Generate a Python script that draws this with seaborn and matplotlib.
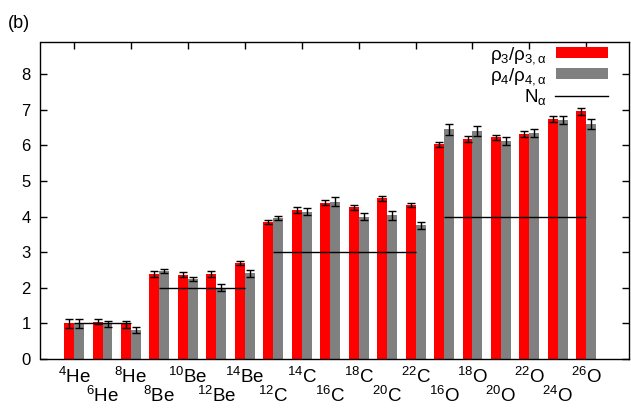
import numpy as np
import pandas as pd
import matplotlib
matplotlib.use("Agg")
import matplotlib.pyplot as plt
import seaborn as sns
from matplotlib.patches import Patch
from matplotlib.lines import Line2D

# ---------------- data ----------------
mass = [4, 6, 8, 8, 10, 12, 14, 12, 14, 16, 18, 20, 22, 16, 18, 20, 22, 24, 26]
element = ["He"] * 3 + ["Be"] * 4 + ["C"] * 6 + ["O"] * 6
rho3 = [1.00, 1.05, 0.98, 2.38, 2.37, 2.38, 2.69, 3.84, 4.19, 4.39, 4.26, 4.51, 4.32,
        6.03, 6.17, 6.22, 6.31, 6.74, 6.95]
rho3_err = [0.12, 0.08, 0.10, 0.08, 0.08, 0.08, 0.06, 0.06, 0.08, 0.08, 0.07, 0.08, 0.05,
            0.07, 0.08, 0.06, 0.08, 0.08, 0.10]
rho4 = [1.00, 0.99, 0.81, 2.47, 2.25, 2.00, 2.41, 3.95, 4.14, 4.42, 4.00, 4.03, 3.76,
        6.45, 6.41, 6.12, 6.35, 6.71, 6.60]
rho4_err = [0.12, 0.08, 0.08, 0.06, 0.06, 0.10, 0.10, 0.06, 0.10, 0.12, 0.10, 0.12, 0.10,
            0.15, 0.14, 0.12, 0.12, 0.12, 0.15]
n_alpha = [1] * 3 + [2] * 4 + [3] * 6 + [4] * 6

series_names = ["rho3", "rho4"]
series_colors = ["#ff0000", "#808080"]
legend_labels = [r"$\mathregular{\rho_3/\rho_{3,\alpha}}$",
                 r"$\mathregular{\rho_4/\rho_{4,\alpha}}$",
                 r"$\mathregular{N_\alpha}$"]

labels = [rf"$^{{{m}}}$$\mathregular{{{e}}}$" for m, e in zip(mass, element)]
keys = [f"{m}{e}" for m, e in zip(mass, element)]

# ---------------- style ----------------
plt.rcParams["font.family"] = ["Liberation Sans", "DejaVu Sans"]
plt.rcParams["mathtext.fontset"] = "custom"
plt.rcParams["mathtext.rm"] = "Liberation Sans"
plt.rcParams["mathtext.it"] = "Liberation Sans:italic"
plt.rcParams["mathtext.sf"] = "Liberation Sans"

df = pd.DataFrame({
    "nucleus": keys * 2,
    "series": [series_names[0]] * len(keys) + [series_names[1]] * len(keys),
    "value": rho3 + rho4,
})

fig = plt.figure(figsize=(6.31, 4.08), dpi=100)
ax = fig.add_axes([40.5 / 631, 49 / 408, (629 - 40.5) / 631, (359 - 42) / 408])

sns.barplot(data=df, x="nucleus", y="value", hue="series", order=keys,
            hue_order=series_names, palette=series_colors, width=0.7,
            errorbar=None, saturation=1, linewidth=0, ax=ax, zorder=2)
if ax.get_legend() is not None:
    ax.get_legend().remove()

idx = np.arange(len(keys))
half = 0.7 / 4
ax.errorbar(idx - half, rho3, yerr=rho3_err, fmt="none", ecolor="black",
            elinewidth=1.0, capsize=3.0, capthick=1.0, zorder=4)
ax.errorbar(idx + half, rho4, yerr=rho4_err, fmt="none", ecolor="black",
            elinewidth=1.0, capsize=3.0, capthick=1.0, zorder=4)

# N_alpha plateaus
na = np.array(n_alpha)
for level in np.unique(na):
    members = idx[na == level]
    ax.hlines(level, members.min(), members.max(), color="black", lw=1.0, zorder=3)

ax.set_xlim(-1.18, 19.5)
ax.set_ylim(0, 8.9)
ax.set_xlabel("")
ax.set_ylabel("")

ax.set_yticks(range(0, 9))
ax.tick_params(axis="y", which="both", direction="in", left=True, right=True,
               length=5, width=1, labelsize=12, pad=7)

ax.set_xticks(idx[::2])
ax.set_xticklabels([labels[i] for i in idx[::2]])
ax.set_xticks(idx[1::2], minor=True)
ax.set_xticklabels([labels[i] for i in idx[1::2]], minor=True)
ax.tick_params(axis="x", which="major", direction="in", top=True, bottom=False,
               length=5, width=1, labelsize=13.5, pad=5.5)
ax.tick_params(axis="x", which="minor", direction="in", top=False, bottom=False,
               length=0, labelsize=13.5, pad=19.5)

for s in ax.spines.values():
    s.set_color("black")
    s.set_linewidth(1.0)

handles = [Patch(facecolor=series_colors[0], edgecolor="none"),
           Patch(facecolor=series_colors[1], edgecolor="none"),
           Line2D([], [], color="black", lw=1.0)]
ax.legend(handles, legend_labels, loc="upper right",
          bbox_to_anchor=((608 - 40.5) / 588.5, (359 - 45) / 317),
          frameon=False, markerfirst=False, fontsize=13.5, handlelength=2.8,
          handleheight=0.55, labelspacing=0.0, borderpad=0, borderaxespad=0,
          handletextpad=0.45)

fig.text(8 / 631, 1 - 24 / 408, "(b)", fontsize=13, va="center", ha="left")

fig.savefig("out.png", dpi=100)
